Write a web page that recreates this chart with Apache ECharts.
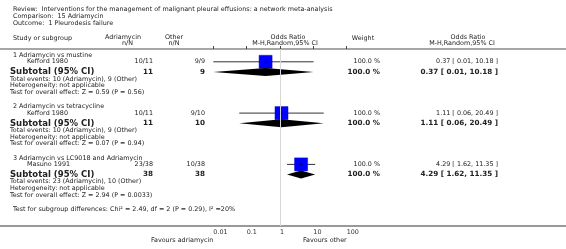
<!DOCTYPE html>
<html>
<head>
<meta charset="utf-8">
<script src="https://cdn.jsdelivr.net/npm/echarts@6/dist/echarts.min.js"></script>
<style>
html,body{margin:0;padding:0;background:#fff;}
#chart{width:566px;height:249px;}
</style>
</head>
<body>
<div id="chart"></div>
<script>
// ---------- data ----------
const titleLines = [
  'Review:  Interventions for the management of malignant pleural effusions: a network meta-analysis',
  'Comparison:  15 Adriamycin',
  'Outcome:  1 Pleurodesis failure'
];
const groupNames = ['1 Adriamycin vs mustine', '2 Adriamycin vs tetracycline', '3 Adriamycin vs LC9018 and Adriamycin'];
const studyNames = ['Kefford 1980', 'Kefford 1980', 'Masuno 1991'];
const adriaEvents = [10, 10, 23];
const adriaTotal = [11, 11, 38];
const otherEvents = [9, 9, 10];
const otherTotal = [9, 10, 38];
const oddsRatio = [0.37, 1.11, 4.29];
const ciLow = [0.01, 0.06, 1.62];
const ciHigh = [10.18, 20.49, 11.35];
const weights = [100.0, 100.0, 100.0];
const zValues = ['0.59', '0.07', '2.94'];
const pValues = ['0.56', '0.94', '0.0033'];
const subgroupTest = 'Test for subgroup differences: Chi\u00b2 = 2.49, df = 2 (P = 0.29), I\u00b2 =20%';
const xTicks = [0.01, 0.1, 1, 10, 100];
const favoursLeft = 'Favours adriamycin';
const favoursRight = 'Favours other';

// ---------- layout ----------
const W = 566, H = 249;
const plotLeft = 213.33, plotRight = 346.67, plotTop = 49, plotBottom = 226;
const groupStart = 55.5, groupStep = 51.3;
const off = {head: 0, study: 6.3, sub: 16.5, tot: 23.5, het: 30.2, test: 36.9};
function rowY(g, k) { return groupStart + g * groupStep + off[k]; }

const FONT = '"DejaVu Sans", Verdana, sans-serif';
const FS = 6.4;
const TXT = '#222';
const graphics = [];
function txt(x, y, s, opt) {
  opt = opt || {};
  graphics.push({
    type: 'text', x: x, y: y, silent: true,
    style: {
      text: s, fill: opt.color || TXT,
      font: (opt.bold ? 'bold ' : '') + (opt.size || FS) + 'px ' + FONT,
      textAlign: opt.align || 'left', textVerticalAlign: 'middle'
    }
  });
}
function fmtCI(i) {
  return oddsRatio[i].toFixed(2) + ' [ ' + ciLow[i].toFixed(2) + ', ' + ciHigh[i].toFixed(2) + ' ]';
}

// title
txt(13, 9.5, titleLines[0]);
txt(13, 16.3, titleLines[1]);
txt(13, 23.2, titleLines[2]);
// header
txt(13, 38, 'Study or subgroup');
txt(123, 37, 'Adriamycin', {align: 'center'});
txt(127.5, 43, 'n/N', {align: 'center'});
txt(174, 37, 'Other', {align: 'center'});
txt(174, 43, 'n/N', {align: 'center'});
txt(288, 37, 'Odds Ratio', {align: 'center'});
txt(285, 43, 'M-H,Random,95% CI', {align: 'center'});
txt(363, 38, 'Weight', {align: 'center'});
txt(468, 37, 'Odds Ratio', {align: 'center'});
txt(462, 43, 'M-H,Random,95% CI', {align: 'center'});

graphics.push({type: 'line', silent: true, shape: {x1: 0, y1: 49, x2: W, y2: 49}, style: {stroke: '#888', lineWidth: 1.5}});
graphics.push({type: 'line', silent: true, shape: {x1: 0, y1: plotBottom, x2: W, y2: plotBottom}, style: {stroke: '#777', lineWidth: 1.5}});

for (let g = 0; g < groupNames.length; g++) {
  txt(13, rowY(g, 'head'), groupNames[g]);
  txt(27, rowY(g, 'study'), studyNames[g]);
  txt(153, rowY(g, 'study'), adriaEvents[g] + '/' + adriaTotal[g], {align: 'right'});
  txt(205, rowY(g, 'study'), otherEvents[g] + '/' + otherTotal[g], {align: 'right'});
  txt(380, rowY(g, 'study'), weights[g].toFixed(1) + ' %', {align: 'right'});
  txt(498, rowY(g, 'study'), fmtCI(g), {align: 'right'});

  txt(10, rowY(g, 'sub'), 'Subtotal (95% CI)', {bold: true, size: 8.5});
  txt(153, rowY(g, 'sub'), String(adriaTotal[g]), {bold: true, size: 7.2, align: 'right'});
  txt(205, rowY(g, 'sub'), String(otherTotal[g]), {bold: true, size: 7.2, align: 'right'});
  txt(380, rowY(g, 'sub'), weights[g].toFixed(1) + ' %', {bold: true, size: 7.2, align: 'right'});
  txt(498, rowY(g, 'sub'), fmtCI(g), {bold: true, size: 7.2, align: 'right'});

  txt(10, rowY(g, 'tot'), 'Total events: ' + adriaEvents[g] + ' (Adriamycin), ' + otherEvents[g] + ' (Other)');
  txt(10, rowY(g, 'het'), 'Heterogeneity: not applicable');
  txt(10, rowY(g, 'test'), 'Test for overall effect: Z = ' + zValues[g] + ' (P = ' + pValues[g] + ')');
}
txt(13, 209.5, subgroupTest);
txt(213.3, 240, favoursLeft, {align: 'right'});
txt(346.7, 240, favoursRight, {align: 'right'});

// ---------- marks ----------
const studyData = oddsRatio.map((v, i) => [v, ciLow[i], ciHigh[i], rowY(i, 'study') - plotTop]);
const subData = oddsRatio.map((v, i) => [v, ciLow[i], ciHigh[i], rowY(i, 'sub') - plotTop]);

const chart = echarts.init(document.getElementById('chart'), null, {renderer: 'canvas'});
chart.setOption({
  animation: false,
  backgroundColor: '#fff',
  grid: {left: plotLeft, top: plotTop, width: plotRight - plotLeft, height: plotBottom - plotTop, containLabel: false},
  xAxis: {
    type: 'log', logBase: 10, min: xTicks[0], max: xTicks[xTicks.length - 1], interval: 1,
    axisLine: {show: false},
    axisTick: {show: true, inside: true, length: 3, lineStyle: {color: '#444', width: 1}},
    axisLabel: {show: true, align: 'left', margin: 3, fontSize: FS, fontFamily: FONT, color: '#333',
      formatter: v => String(xTicks.find(t => Math.abs(Math.log10(t) - Math.log10(v)) < 1e-6) ?? v)},
    splitLine: {show: false}
  },
  yAxis: {type: 'value', inverse: true, min: 0, max: plotBottom - plotTop, show: false},
  series: [
    {
      type: 'custom', name: 'studies', data: studyData, silent: true,
      renderItem: function (params, api) {
        const y = api.value(3);
        const c = api.coord([api.value(0), y]);
        const l = api.coord([api.value(1), y]);
        const h = api.coord([api.value(2), y]);
        const s = 13;
        return {type: 'group', children: [
          {type: 'line', shape: {x1: l[0], y1: c[1], x2: h[0], y2: c[1]}, style: {stroke: '#333', lineWidth: 1}},
          {type: 'rect', shape: {x: c[0] - s / 2, y: c[1] - s / 2, width: s, height: s}, style: {fill: '#0000ff', stroke: '#0000cc', lineWidth: 0.5}},
          {type: 'line', shape: {x1: c[0] - 2, y1: c[1], x2: c[0] + 2, y2: c[1]}, style: {stroke: '#000066', lineWidth: 0.6}},
          {type: 'line', shape: {x1: c[0], y1: c[1] - 2, x2: c[0], y2: c[1] + 2}, style: {stroke: '#000066', lineWidth: 0.6}}
        ]};
      },
      markLine: {
        silent: true, symbol: 'none', label: {show: false},
        lineStyle: {color: '#d8d8d8', width: 1, type: 'solid'},
        data: [{xAxis: 1}]
      },
      z: 3
    },
    {
      type: 'custom', name: 'subtotals', data: subData, silent: true,
      renderItem: function (params, api) {
        const y = api.value(3);
        const c = api.coord([api.value(0), y]);
        const l = api.coord([api.value(1), y]);
        const h = api.coord([api.value(2), y]);
        const hh = 4;
        return {type: 'polygon', shape: {points: [[l[0], c[1]], [c[0], c[1] - hh], [h[0], c[1]], [c[0], c[1] + hh]]}, style: {fill: '#000'}};
      },
      z: 3
    }
  ],
  graphic: graphics
});
</script>
</body>
</html>
